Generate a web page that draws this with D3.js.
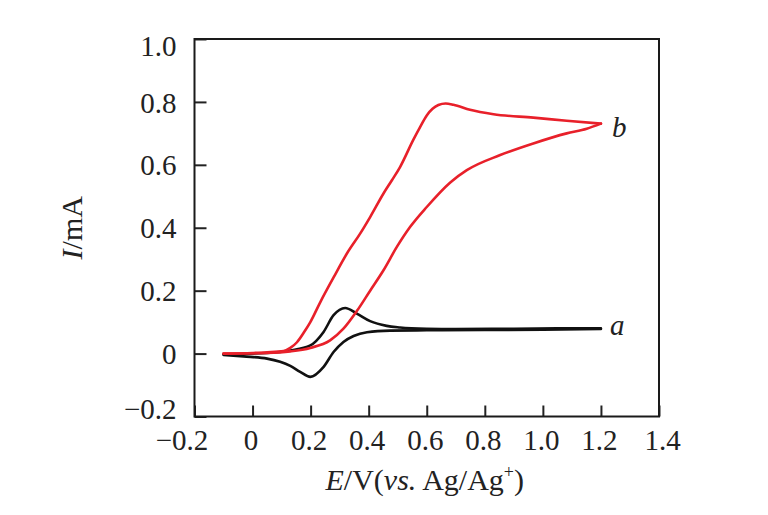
<!DOCTYPE html>
<html>
<head>
<meta charset="utf-8">
<script src="https://cdn.jsdelivr.net/npm/d3@7/dist/d3.min.js"></script>
<style>
  html, body { margin: 0; padding: 0; background: #fff; }
  svg { display: block; }
  text { font-family: "Liberation Serif", "Times New Roman", serif; fill: #222; }
</style>
</head>
<body>
<svg id="chart" width="768" height="515"></svg>
<script>
// ---- data ----
const xTicks = [-0.2, 0, 0.2, 0.4, 0.6, 0.8, 1.0, 1.2, 1.4];
const yTicks = [-0.2, 0, 0.2, 0.4, 0.6, 0.8, 1.0];

// curve b (red): forward (anodic) sweep
const bFwdE = [-0.10, 0.00, 0.05, 0.107, 0.13, 0.153, 0.176, 0.199, 0.233, 0.279, 0.325, 0.371, 0.405, 0.451, 0.48, 0.508, 0.554, 0.577, 0.600, 0.620, 0.640, 0.665, 0.692, 0.749, 0.83, 0.967, 1.082, 1.20];
const bFwdI = [0.000, 0.002, 0.004, 0.008, 0.018, 0.036, 0.066, 0.100, 0.163, 0.242, 0.318, 0.382, 0.434, 0.509, 0.551, 0.593, 0.680, 0.720, 0.757, 0.778, 0.790, 0.795, 0.791, 0.775, 0.761, 0.750, 0.740, 0.731];
// curve b (red): reverse sweep
const bRevE = [1.20, 1.151, 1.082, 0.967, 0.853, 0.738, 0.681, 0.600, 0.543, 0.497, 0.451, 0.405, 0.359, 0.313, 0.267, 0.199, 0.13, 0.05, -0.10];
const bRevI = [0.731, 0.715, 0.700, 0.668, 0.631, 0.583, 0.544, 0.466, 0.403, 0.339, 0.265, 0.200, 0.135, 0.079, 0.042, 0.018, 0.007, 0.002, 0.000];

// curve a (black): forward sweep
const aFwdE = [-0.10, 0.05, 0.13, 0.199, 0.244, 0.279, 0.319, 0.359, 0.405, 0.462, 0.508, 0.60, 0.70, 0.90, 1.05, 1.20];
const aFwdI = [-0.002, 0.002, 0.010, 0.026, 0.068, 0.122, 0.145, 0.127, 0.103, 0.088, 0.083, 0.079, 0.078, 0.079, 0.080, 0.080];
// curve a (black): reverse sweep
const aRevE = [1.20, 1.00, 0.80, 0.60, 0.474, 0.394, 0.348, 0.313, 0.279, 0.244, 0.199, 0.164, 0.13, 0.05, -0.031, -0.10];
const aRevI = [0.078, 0.076, 0.075, 0.074, 0.073, 0.068, 0.056, 0.037, 0.005, -0.043, -0.074, -0.058, -0.039, -0.016, -0.009, -0.004];

const seriesLabels = ["a", "b"];

// ---- drawing ----
const svg = d3.select("#chart");
const pL = 194.5, pR = 659, pT = 39, pB = 416.5;

const x = d3.scaleLinear().domain([-0.2, 1.4]).range([pL, pR]);
const y = d3.scaleLinear().domain([-0.2, 1.0]).range([pB, pT]);

const fmt = d => d === 0 ? "0" : d3.format(".1f")(d);
const tickFont = 29;

// x axis
const gx = svg.append("g")
  .attr("transform", `translate(0,${pB})`)
  .call(d3.axisBottom(x).tickValues(xTicks).tickFormat(fmt).tickSizeInner(-11).tickSizeOuter(0).tickPadding(0));
gx.select(".domain").remove();
gx.selectAll(".tick line").attr("stroke", "#222").attr("stroke-width", 2);
gx.selectAll(".tick text")
  .attr("y", 33.5).attr("dy", null)
  .attr("font-size", tickFont)
  .attr("font-family", "Liberation Serif, serif")
  .attr("fill", "#222")
  .attr("dx", d => d === -0.2 ? -13 : (d === 1.4 ? 3 : -2));

// y axis
const gy = svg.append("g")
  .attr("transform", `translate(${pL},0)`)
  .call(d3.axisLeft(y).tickValues(yTicks).tickFormat(fmt).tickSizeInner(-12).tickSizeOuter(0).tickPadding(18));
gy.select(".domain").remove();
gy.selectAll(".tick line").attr("stroke", "#222").attr("stroke-width", 2);
gy.selectAll(".tick text")
  .attr("font-size", tickFont)
  .attr("font-family", "Liberation Serif, serif")
  .attr("fill", "#222")
  .attr("dy", d => d === 1.0 ? "0.58em" : (d === -0.2 ? "0.06em" : "0.35em"));

// frame
svg.append("rect")
  .attr("x", pL).attr("y", pT)
  .attr("width", pR - pL).attr("height", pB - pT)
  .attr("fill", "none").attr("stroke", "#1a1a1a").attr("stroke-width", 2);

// curves: each sweep branch is monotone in E, drawn with a monotone spline
const line = d3.line().x(d => x(d[0])).y(d => y(d[1])).curve(d3.curveMonotoneX);
const zip = (E, I) => E.map((e, i) => [e, I[i]]);

const branches = [
  { pts: zip(aFwdE, aFwdI), color: "#111" },
  { pts: zip(aRevE, aRevI), color: "#111" },
  { pts: zip(bFwdE, bFwdI), color: "#e8202a" },
  { pts: zip(bRevE, bRevI), color: "#e8202a" }
];
svg.selectAll("path.curve").data(branches).join("path")
  .attr("class", "curve")
  .attr("d", d => line(d.pts))
  .attr("fill", "none").attr("stroke", d => d.color)
  .attr("stroke-width", 2.6).attr("stroke-linejoin", "round").attr("stroke-linecap", "round");

// curve labels
svg.append("text").text(seriesLabels[0])
  .attr("x", x(1.2) + 9).attr("y", y(aFwdI[aFwdI.length - 1]) + 7)
  .attr("font-size", tickFont).attr("font-style", "italic");
svg.append("text").text(seriesLabels[1])
  .attr("x", x(1.2) + 11).attr("y", y(bFwdI[bFwdI.length - 1]) + 13)
  .attr("font-size", tickFont).attr("font-style", "italic");

// axis titles
const xt = svg.append("text")
  .attr("x", (pL + pR) / 2 - 2).attr("y", 490)
  .attr("text-anchor", "middle").attr("font-size", 30);
xt.append("tspan").attr("font-style", "italic").text("E");
xt.append("tspan").text("/V(");
xt.append("tspan").attr("font-style", "italic").text("vs.");
xt.append("tspan").text(" Ag/Ag");
xt.append("tspan").attr("font-size", 18).attr("dy", -12).text("+");
xt.append("tspan").attr("dy", 12).text(")");

const yt = svg.append("text")
  .attr("transform", `translate(82,${(pT + pB) / 2}) rotate(-90)`)
  .attr("text-anchor", "middle").attr("font-size", 30);
yt.append("tspan").attr("font-style", "italic").text("I");
yt.append("tspan").text("/mA");
</script>
</body>
</html>
